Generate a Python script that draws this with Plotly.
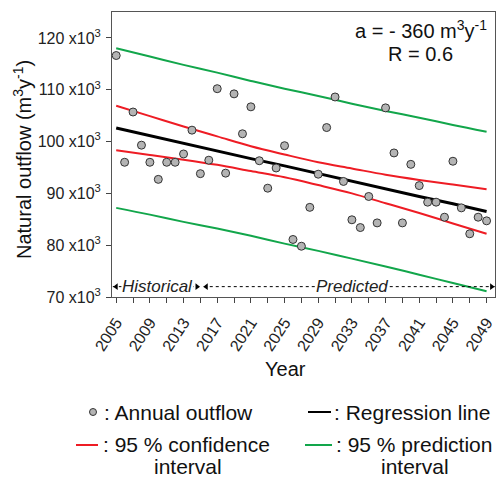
import plotly.graph_objects as go

# ---------------- data (thousands m3/yr) ----------------
years = list(range(2005, 2050))
outflow = [116.6, 96.0, 105.7, 99.3, 96.0, 92.7, 96.0, 96.0, 97.6, 102.2,
           93.8, 96.4, 110.2, 93.9, 109.2, 101.5, 106.7, 96.3, 91.0, 94.9,
           99.2, 81.1, 79.8, 87.3, 93.7, 102.7, 108.6, 92.3, 84.9, 83.4,
           89.4, 84.3, 106.5, 97.8, 84.3, 95.6, 91.5, 88.3, 88.3, 85.4,
           96.2, 87.2, 82.2, 85.4, 84.7]

line_years = [2005, 2009, 2013, 2017, 2021, 2025, 2029, 2033, 2037, 2041, 2045, 2049]
regression = [102.6, 101.1, 99.7, 98.2, 96.7, 95.3, 93.8, 92.4, 90.9, 89.4, 88.0, 86.5]
ci_upper = [106.9, 104.9, 102.9, 101.0, 99.1, 97.5, 96.0, 94.8, 93.6, 92.6, 91.7, 90.8]
ci_lower = [98.3, 97.4, 96.5, 95.5, 94.3, 93.1, 91.6, 90.0, 88.1, 86.2, 84.2, 82.2]
pi_upper = [118.0, 116.4, 114.8, 113.3, 111.7, 110.2, 108.8, 107.3, 105.9, 104.6, 103.2, 101.9]
pi_lower = [87.2, 85.9, 84.5, 83.2, 81.8, 80.3, 78.9, 77.4, 75.9, 74.3, 72.7, 71.1]

y_ticks = [70, 80, 90, 100, 110, 120]
y_ticktext = [f"{v} x10<sup>3</sup>" for v in y_ticks]
x_ticks = list(range(2005, 2050, 4))

period_y = 72.0
hist_span = [2004.6, 2014.8]
pred_span = [2015.4, 2050.0]
hist_heads = [2005.0, 2014.6]
pred_heads = [2015.7, 2049.6]

W, H = 496, 478
L, T, R_, B = 112, 12, 1, 181
PW, PH = W - L - R_, H - T - B
FONT = "Arial, Liberation Sans, sans-serif"


def px(x):
    return (x - L) / PW


def py(y):
    return (H - B - y) / PH


RED = "#ee1c24"
GREEN = "#12a64b"

fig = go.Figure()
fig.add_trace(go.Scatter(x=line_years, y=pi_upper, mode="lines", line=dict(color=GREEN, width=2, shape="spline")))
fig.add_trace(go.Scatter(x=line_years, y=pi_lower, mode="lines", line=dict(color=GREEN, width=2, shape="spline")))
fig.add_trace(go.Scatter(x=line_years, y=ci_upper, mode="lines", line=dict(color=RED, width=2, shape="spline")))
fig.add_trace(go.Scatter(x=line_years, y=ci_lower, mode="lines", line=dict(color=RED, width=2, shape="spline")))
fig.add_trace(go.Scatter(x=line_years, y=regression, mode="lines", line=dict(color="black", width=3)))
fig.add_trace(go.Scatter(x=years, y=outflow, mode="markers",
                         marker=dict(size=8, color="#b4b4b4", line=dict(color="#333333", width=1))))

# period arrows (dotted lines + arrow heads)
for span, heads in ((hist_span, hist_heads), (pred_span, pred_heads)):
    fig.add_shape(type="line", x0=span[0], x1=span[1], y0=period_y, y1=period_y,
                  line=dict(color="black", width=1, dash="dot"))
    fig.add_trace(go.Scatter(x=heads, y=[period_y, period_y], mode="markers",
                             marker=dict(symbol=["triangle-left", "triangle-right"], size=6, color="black"),
                             cliponaxis=False))

fig.add_annotation(x=2009.9, y=period_y, text="<i>Historical</i>", showarrow=False,
                   font=dict(family=FONT, size=17, color="#222"), bgcolor="white", borderpad=0)
fig.add_annotation(x=2033.0, y=period_y, text="<i>Predicted</i>", showarrow=False,
                   font=dict(family=FONT, size=17, color="#222"), bgcolor="white", borderpad=0)


def ptext(x, y, text, xanchor="center", size=20, angle=0):
    fig.add_annotation(xref="paper", yref="paper", x=px(x), y=py(y), xanchor=xanchor, yanchor="middle",
                       text=text, showarrow=False, textangle=angle,
                       font=dict(family=FONT, size=size, color="#111"))


# stats text
ptext(489, 30, "a = - 360 m<sup>3</sup>y<sup>-1</sup>", xanchor="right")
ptext(420, 54, "R = 0.6")

# axis titles
ptext(22, 160, "Natural outflow (m<sup>3</sup>y<sup>-1</sup>)", angle=-90)
ptext(285, 369, "Year")

# legend (custom)
r = 3.5
fig.add_shape(type="circle", xref="paper", yref="paper",
              x0=px(93 - r), x1=px(93 + r), y0=py(412 + r), y1=py(412 - r),
              fillcolor="#b4b4b4", line=dict(color="#333333", width=1))
fig.add_shape(type="line", xref="paper", yref="paper", x0=px(308), x1=px(331), y0=py(412), y1=py(412),
              line=dict(color="black", width=2))
fig.add_shape(type="line", xref="paper", yref="paper", x0=px(76), x1=px(98), y0=py(445), y1=py(445),
              line=dict(color=RED, width=2))
fig.add_shape(type="line", xref="paper", yref="paper", x0=px(305), x1=px(332), y0=py(445), y1=py(445),
              line=dict(color=GREEN, width=2))
legend_texts = [
    (102, 412, ": Annual outflow", "left"),
    (332, 412, ": Regression line", "left"),
    (101, 445, ": 95 % confidence", "left"),
    (334, 445, ": 95 % prediction", "left"),
    (188, 466, "interval", "center"),
    (415, 466, "interval", "center"),
]
for x, y, t, anc in legend_texts:
    ptext(x, y, t, xanchor=anc, size=21)

fig.update_layout(
    width=W, height=H, margin=dict(l=L, r=R_, t=T, b=B),
    paper_bgcolor="white", plot_bgcolor="white", showlegend=False,
    font=dict(family=FONT, color="#222"),
    xaxis=dict(range=[2004.5, 2050.0], tickmode="array", tickvals=x_ticks,
               ticktext=[str(v) for v in x_ticks], tickangle=-57,
               ticks="outside", ticklen=5, tickcolor="#444", showgrid=False, zeroline=False,
               showline=True, linecolor="#555", linewidth=1, mirror=True, ticklabelstandoff=4,
               tickfont=dict(family=FONT, size=16, color="#222"),
               minor=dict(tickmode="array", tickvals=list(range(2005, 2050, 2)), ticks="outside",
                          ticklen=5, tickcolor="#444", showgrid=False)),
    yaxis=dict(range=[70, 125], tickmode="array", tickvals=y_ticks, ticktext=y_ticktext,
               ticks="outside", ticklen=5, tickcolor="#444", showgrid=False, zeroline=False,
               showline=True, linecolor="#555", linewidth=1, mirror=True, ticklabelstandoff=2,
               tickfont=dict(family=FONT, size=16, color="#222")),
)

fig.write_html("out.html")
